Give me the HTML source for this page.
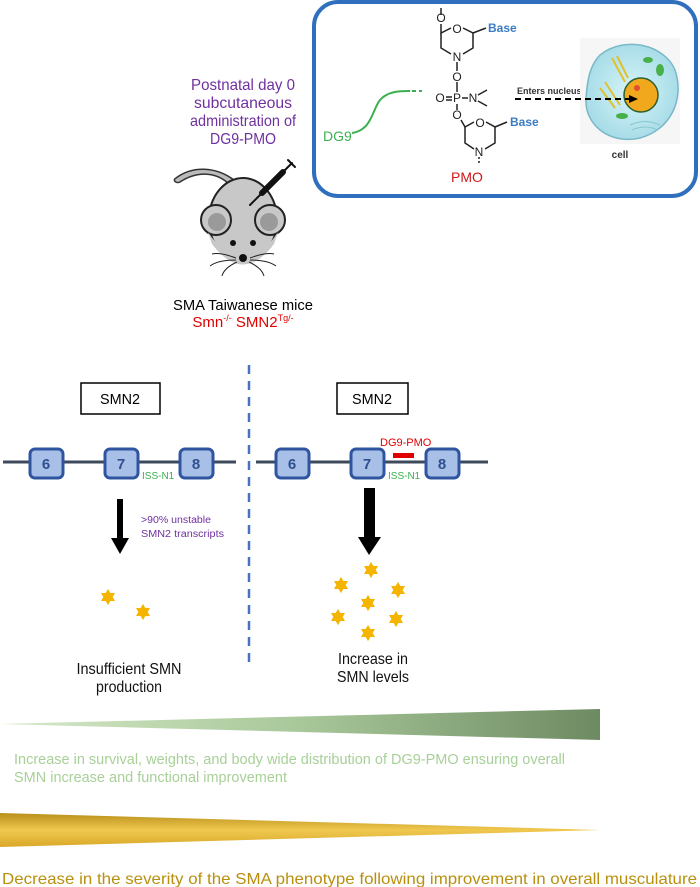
<!DOCTYPE html>
<html><head><meta charset="utf-8"><style>
html,body{margin:0;padding:0;background:#fff;}
svg{display:block;font-family:"Liberation Sans",Arial,sans-serif;}
</style></head><body>
<svg width="700" height="887" viewBox="0 0 700 887" xmlns="http://www.w3.org/2000/svg">
<defs>
<linearGradient id="gg" x1="0" x2="1" y1="0" y2="0"><stop offset="0" stop-color="#d6e8c8"/><stop offset="0.5" stop-color="#a8c89a"/><stop offset="1" stop-color="#6e8a62"/></linearGradient>
<linearGradient id="yg" x1="0" x2="0" y1="0" y2="1"><stop offset="0" stop-color="#b8901a"/><stop offset="0.5" stop-color="#f0c850"/><stop offset="1" stop-color="#d8a828"/></linearGradient>
<radialGradient id="cellg"><stop offset="0" stop-color="#d8f4f8"/><stop offset="1" stop-color="#a8dde8"/></radialGradient>
<symbol id="star" viewBox="-10 -10 20 20"><polygon points="0,-9 2.6,-4.5 7.8,-4.5 5.2,0 7.8,4.5 2.6,4.5 0,9 -2.6,4.5 -7.8,4.5 -5.2,0 -7.8,-4.5 -2.6,-4.5" fill="#f4b400"/></symbol>
</defs>

<g fill="#7030a0" font-size="16" text-anchor="middle">
<text x="243" y="90" textLength="104" lengthAdjust="spacingAndGlyphs">Postnatal day 0</text>
<text x="243" y="108" textLength="98" lengthAdjust="spacingAndGlyphs">subcutaneous</text>
<text x="243" y="126" textLength="106" lengthAdjust="spacingAndGlyphs">administration of</text>
<text x="243" y="144" textLength="66" lengthAdjust="spacingAndGlyphs">DG9-PMO</text>
</g>

<!-- mouse -->
<path d="M230 185 C215 170 195 172 180 182 C176 184 172 180 176 178 C192 166 215 166 234 180" fill="#bbb" stroke="#333" stroke-width="1.5"/>
<ellipse cx="243" cy="220" rx="34" ry="42" fill="#c8c8c8" stroke="#222" stroke-width="2"/>
<circle cx="216" cy="220" r="15" fill="#c8c8c8" stroke="#222" stroke-width="2"/>
<circle cx="270" cy="220" r="15" fill="#c8c8c8" stroke="#222" stroke-width="2"/>
<circle cx="217" cy="222" r="9" fill="#9a9a9a"/>
<circle cx="269" cy="222" r="9" fill="#9a9a9a"/>
<path d="M208 232 Q243 285 278 232 L274 244 Q243 285 212 244Z" fill="#c8c8c8"/>
<circle cx="233" cy="243" r="3" fill="#111"/><circle cx="253" cy="243" r="3" fill="#111"/>
<circle cx="243" cy="258" r="4" fill="#111"/>
<g stroke="#222" stroke-width="1" fill="none">
<path d="M236 258 Q220 252 212 254"/><path d="M236 260 Q218 260 210 266"/><path d="M237 262 Q224 268 222 276"/>
<path d="M250 258 Q266 252 274 254"/><path d="M250 260 Q268 260 276 266"/><path d="M249 262 Q262 268 264 276"/>
</g>
<g stroke="#111" stroke-linecap="round">
<line x1="250" y1="205" x2="262" y2="193" stroke-width="2"/>
<line x1="262" y1="193" x2="283" y2="172" stroke-width="6"/>
<line x1="283" y1="172" x2="292" y2="163" stroke-width="2"/>
<line x1="288" y1="160" x2="295" y2="167" stroke-width="2"/>
</g>
<text x="243" y="310" font-size="15" text-anchor="middle" fill="#000" textLength="140" lengthAdjust="spacingAndGlyphs">SMA Taiwanese mice</text>
<text x="243" y="327" font-size="15" text-anchor="middle" fill="#e00000">Smn<tspan font-size="9" dy="-6">-/-</tspan><tspan dy="6"> SMN2</tspan><tspan font-size="9" dy="-6">Tg/-</tspan></text>

<rect x="314" y="2" width="382" height="194" rx="24" fill="#fff" stroke="#2f6fbd" stroke-width="4"/>
<g stroke="#222" stroke-width="1.5" fill="none">
<path d="M441 8 L441 15"/><path d="M441 24 L441 33 L451 28"/><path d="M463 28 L473 33 L473 48 L463 54"/><path d="M473 33 L486 28"/>
<path d="M441 33 L441 48 L451 54"/>
<line x1="457" y1="62" x2="457" y2="71"/><line x1="457" y1="82" x2="457" y2="92"/>
<line x1="446" y1="97" x2="452" y2="97"/><line x1="446" y1="100" x2="452" y2="100"/>
<line x1="462" y1="98" x2="468" y2="98"/><line x1="457" y1="104" x2="457" y2="110"/>
<path d="M478 95 L487 90 M478 101 L487 106"/>
<path d="M461 120 L465 127 L474 122"/><path d="M486 122 L495 127 L495 143 L485 149"/><path d="M495 127 L507 122"/>
<path d="M465 127 L465 143 L474 149"/><path d="M479 157 L479 163" stroke-dasharray="2 2"/>
</g>
<g font-size="12" fill="#222" text-anchor="middle">
<text x="441" y="22">O</text><text x="457" y="33">O</text><text x="457" y="61">N</text><text x="457" y="81">O</text>
<text x="440" y="102">O</text><text x="457" y="102">P</text><text x="473" y="102">N</text><text x="457" y="119">O</text>
<text x="480" y="127">O</text><text x="479" y="156">N</text>
</g>
<text x="488" y="32" font-size="12" fill="#3a7cc4" font-weight="bold">Base</text>
<text x="510" y="126" font-size="12" fill="#3a7cc4" font-weight="bold">Base</text>
<text x="467" y="182" font-size="14" fill="#d01818" text-anchor="middle">PMO</text>
<text x="323" y="141" font-size="14" fill="#3cb050">DG9</text>
<path d="M352 133 C372 130 372 110 380 100 C388 91 400 91 410 91" stroke="#3cb050" stroke-width="2" fill="none"/>
<path d="M412 91 L422 91" stroke="#3cb050" stroke-width="2" stroke-dasharray="4 3"/>
<text x="517" y="94" font-size="9" fill="#333" font-weight="bold">Enters nucleus</text>
<rect x="580" y="38" width="100" height="106" fill="#f6f6f6"/>
<path d="M600 55 C625 35 665 45 675 70 C685 100 670 130 640 138 C610 145 585 125 586 100 C587 80 590 65 600 55Z" fill="url(#cellg)" stroke="#7ab8c8" stroke-width="1.5"/>
<circle cx="641" cy="95" r="17" fill="#f2a81c" stroke="#2a6030" stroke-width="1.5"/>
<circle cx="637" cy="88" r="3" fill="#e05030"/>
<path d="M612 58 L625 82 M617 56 L628 78 M605 82 L620 105 M600 88 L615 108" stroke="#e0c030" stroke-width="2"/>
<ellipse cx="648" cy="60" rx="5" ry="3" fill="#48b048"/><ellipse cx="660" cy="70" rx="4" ry="6" fill="#48b048"/><ellipse cx="622" cy="116" rx="6" ry="3" fill="#48b048"/>
<path d="M630 125 Q645 118 660 125 M632 130 Q645 124 658 130" stroke="#88c8d0" fill="none"/>
<path d="M515 99 L630 99" stroke="#000" stroke-width="2" stroke-dasharray="6 4"/>
<polygon points="638,99 629,95 629,103" fill="#000"/>
<text x="620" y="158" font-size="10" fill="#333" font-weight="bold" text-anchor="middle">cell</text>

<line x1="249" y1="365" x2="249" y2="662" stroke="#4a72c0" stroke-width="2.5" stroke-dasharray="9 7"/>

<rect x="81" y="383" width="79" height="31" fill="#fff" stroke="#000" stroke-width="1.5"/>
<text x="120" y="404" font-size="15" text-anchor="middle" textLength="40" lengthAdjust="spacingAndGlyphs">SMN2</text>
<rect x="337" y="383" width="71" height="31" fill="#fff" stroke="#000" stroke-width="1.5"/>
<text x="372" y="404" font-size="15" text-anchor="middle" textLength="40" lengthAdjust="spacingAndGlyphs">SMN2</text>

<line x1="3" y1="462" x2="236" y2="462" stroke="#3d4a5c" stroke-width="3"/>
<line x1="256" y1="462" x2="488" y2="462" stroke="#3d4a5c" stroke-width="3"/>
<g fill="#a8c0e8" stroke="#2f55a0" stroke-width="3">
<rect x="30" y="449" width="33" height="29" rx="5"/><rect x="105" y="449" width="33" height="29" rx="5"/><rect x="180" y="449" width="33" height="29" rx="5"/>
<rect x="276" y="449" width="33" height="29" rx="5"/><rect x="351" y="449" width="33" height="29" rx="5"/><rect x="426" y="449" width="33" height="29" rx="5"/>
</g>
<g font-size="15" fill="#2f4f8f" text-anchor="middle" font-weight="bold">
<text x="46" y="469">6</text><text x="121" y="469">7</text><text x="196" y="469">8</text>
<text x="292" y="469">6</text><text x="367" y="469">7</text><text x="442" y="469">8</text>
</g>
<text x="142" y="479" font-size="10" fill="#3cb050">ISS-N1</text>
<text x="388" y="479" font-size="10" fill="#3cb050">ISS-N1</text>
<text x="380" y="446" font-size="11" fill="#e00000">DG9-PMO</text>
<rect x="393" y="453" width="21" height="5" fill="#e00000"/>

<rect x="117" y="499" width="6" height="40" fill="#000"/>
<polygon points="111,538 129,538 120,554" fill="#000"/>
<rect x="364" y="488" width="11" height="50" fill="#000"/>
<polygon points="358,537 381,537 369,555" fill="#000"/>
<text x="141" y="523" font-size="10" fill="#7030a0" textLength="70" lengthAdjust="spacingAndGlyphs">&gt;90% unstable</text>
<text x="141" y="537" font-size="10" fill="#7030a0" textLength="83" lengthAdjust="spacingAndGlyphs">SMN2 transcripts</text>

<g>
<use href="#star" x="99" y="588" width="18" height="18"/><use href="#star" x="134" y="603" width="18" height="18"/>
<use href="#star" x="362" y="561" width="18" height="18"/><use href="#star" x="332" y="576" width="18" height="18"/>
<use href="#star" x="389" y="581" width="18" height="18"/><use href="#star" x="359" y="594" width="18" height="18"/>
<use href="#star" x="329" y="608" width="18" height="18"/><use href="#star" x="387" y="610" width="18" height="18"/>
<use href="#star" x="359" y="624" width="18" height="18"/>
</g>
<g font-size="16" text-anchor="middle" fill="#111">
<text x="129" y="674" textLength="105" lengthAdjust="spacingAndGlyphs">Insufficient SMN</text><text x="129" y="692" textLength="66" lengthAdjust="spacingAndGlyphs">production</text>
<text x="373" y="664" textLength="70" lengthAdjust="spacingAndGlyphs">Increase in</text><text x="373" y="682" textLength="72" lengthAdjust="spacingAndGlyphs">SMN levels</text>
</g>

<polygon points="0,724 600,709 600,740" fill="url(#gg)"/>
<g font-size="15" fill="#a8d098">
<text x="14" y="764" textLength="551" lengthAdjust="spacingAndGlyphs">Increase in survival, weights, and body wide distribution of DG9-PMO ensuring overall</text>
<text x="14" y="782" textLength="273" lengthAdjust="spacingAndGlyphs">SMN increase and functional improvement</text>
</g>
<polygon points="0,813 600,830 0,847" fill="url(#yg)"/>
<text x="2" y="884" font-size="16" fill="#b8900e" textLength="695" lengthAdjust="spacingAndGlyphs">Decrease in the severity of the SMA phenotype following improvement in overall musculature</text>
</svg>
</body></html>
